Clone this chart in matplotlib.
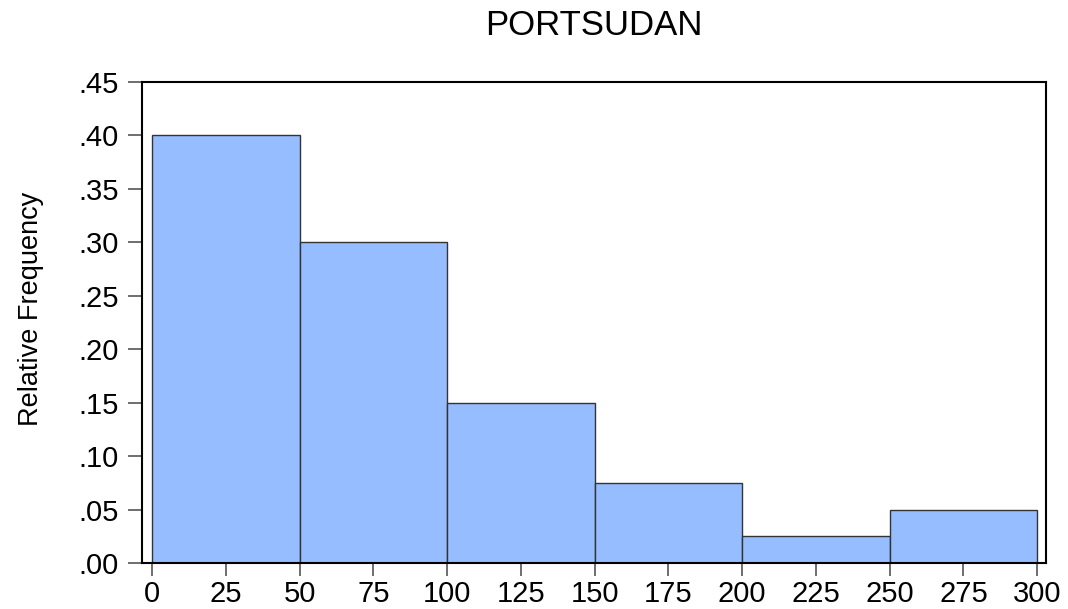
import numpy as np
import matplotlib.pyplot as plt

plt.rcParams['font.family'] = ['Liberation Sans', 'DejaVu Sans']

# histogram bins and relative frequencies
bin_edges = [0, 50, 100, 150, 200, 250, 300]
rel_freq = [0.40, 0.30, 0.15, 0.075, 0.025, 0.05]
xticks = [0, 25, 50, 75, 100, 125, 150, 175, 200, 225, 250, 275, 300]
yticks = [0.00, 0.05, 0.10, 0.15, 0.20, 0.25, 0.30, 0.35, 0.40, 0.45]
ytick_labels = ['.00', '.05', '.10', '.15', '.20', '.25', '.30', '.35', '.40', '.45']

fig = plt.figure(figsize=(10.68, 6.09), dpi=100)
ax = fig.add_axes([142/1068, 1 - 563/609, (1046-142)/1068, (563-82)/609])

widths = np.diff(bin_edges)
ax.bar(bin_edges[:-1], rel_freq, width=widths, align='edge',
       color='#96BDFF', edgecolor='#333333', linewidth=1.0)

ax.set_xlim(-3.4, 303.0)
ax.set_ylim(0, 0.45)
ax.set_xticks(xticks)
ax.set_xticklabels([str(t) for t in xticks])
ax.set_yticks(yticks)
ax.set_yticklabels(ytick_labels)
ax.tick_params(axis='both', direction='out', labelsize=21, color='#555555', width=1.2)
ax.tick_params(axis='y', length=10, pad=7)
ax.tick_params(axis='x', length=9, pad=3)
for s in ax.spines.values():
    s.set_linewidth(1.5)
    s.set_color('black')

fig.text(31/1068, 1 - 309/609, 'Relative Frequency', rotation=90,
         ha='center', va='center', fontsize=19.5)
fig.text(594/1068, 1 - 35/609, 'PORTSUDAN', ha='center', va='baseline', fontsize=25)

plt.savefig('out.png', dpi=100)
